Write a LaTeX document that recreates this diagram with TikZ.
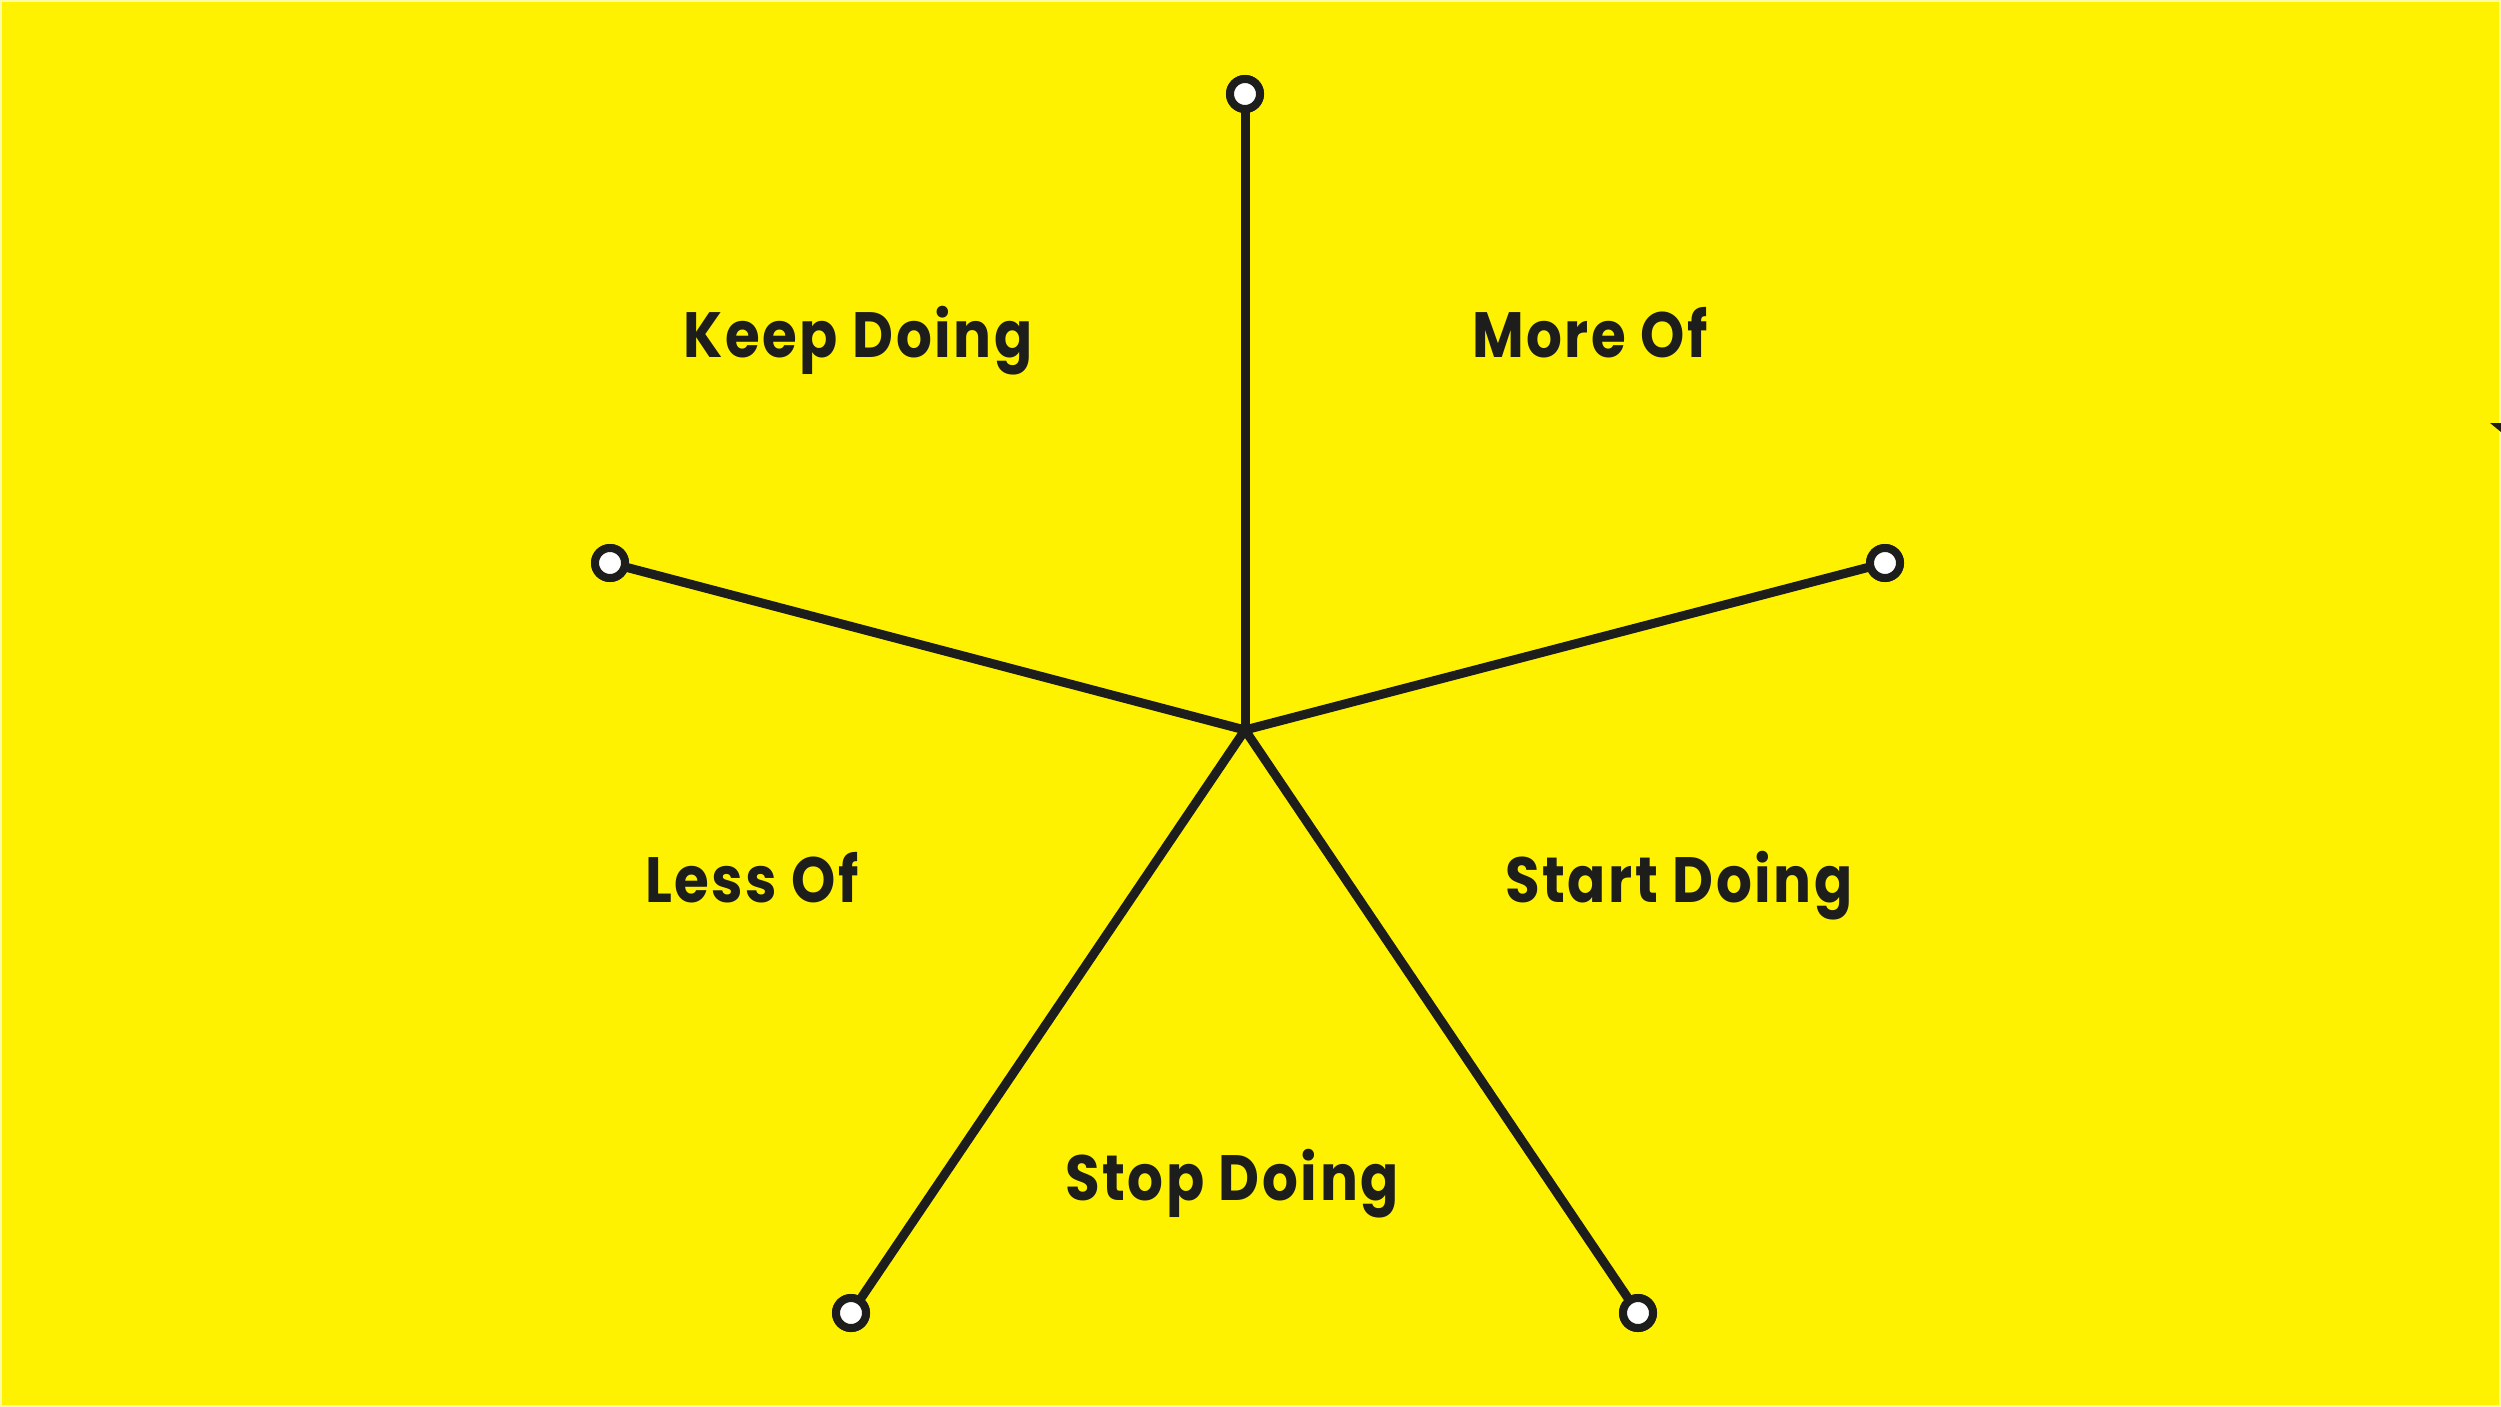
\documentclass[tikz,border=0pt]{standalone}
\usepackage{fontspec}
\newfontfamily\labfont{Poppins}[FakeStretch=0.88,LetterSpace=4]
\definecolor{bgyellow}{HTML}{FFF200}
\definecolor{ink}{HTML}{1D1D1B}
\begin{document}
\begin{tikzpicture}[x=1pt,y=-1pt,
  spoke/.style={draw=ink,line width=9pt,line cap=round},
  endpt/.style={circle,draw=ink,fill=white,line width=8pt,minimum size=30pt,inner sep=0pt},
  lab/.style={anchor=base,text=ink,font=\labfont\bfseries\fontsize{64}{70}\selectfont,inner sep=0pt}]
\useasboundingbox (0,0) rectangle (2501,1407);
\fill[bgyellow] (0,0) rectangle (2501,1407);
\draw[yellow!35!white,line width=2pt] (1,1) rectangle (2500,1406);
\fill[ink] (2490,423) -- (2501,423) -- (2501,432) -- cycle;
\coordinate (c) at (1245,730);
\node[endpt] (top) at (1245,94) {};
\node[endpt] (left) at (610,563) {};
\node[endpt] (right) at (1885,563) {};
\node[endpt] (bl) at (851,1313) {};
\node[endpt] (br) at (1638,1313) {};
\foreach \n in {top,left,right,bl,br} \draw[spoke] (c) -- (\n);
\foreach \n in {top,left,right,bl,br} \node[endpt] at (\n) {};
\node[lab] (keep) at (858,357) {Keep Doing};
\node[lab] (more) at (1590,357) {More Of};
\node[lab] (less) at (752,902) {Less Of};
\node[lab] (start) at (1679,902) {Start Doing};
\node[lab] (stop) at (1232,1200) {Stop Doing};
\end{tikzpicture}
\end{document}
